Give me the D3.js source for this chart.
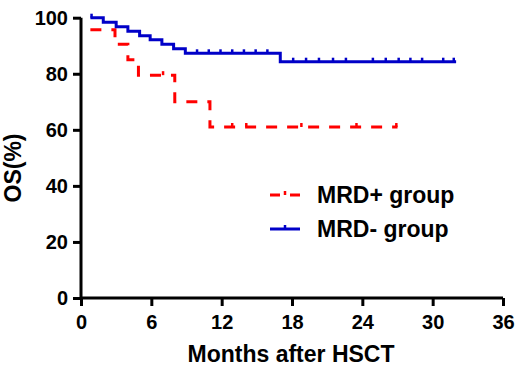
<!DOCTYPE html>
<html><head><meta charset="utf-8">
<script src="https://cdn.jsdelivr.net/npm/d3@7"></script>
<style>body{margin:0;background:#fff}svg{display:block}</style>
</head><body>
<script>
const xTicks = [0, 6, 12, 18, 24, 30, 36];
const yTicks = [0, 20, 40, 60, 80, 100];
const seriesNames = ["MRD+ group", "MRD- group"];
// MRD+ group (red)
const redTimes = [0.8, 2.9, 4.0, 4.9, 8.0, 11.0, 27.0];
const redSurv  = [95.7, 90.5, 85.0, 79.5, 70.0, 61.0, 61.0];
const redCensor = [7.0, 12.9, 14.1, 18.8, 23.5, 26.9];
// MRD- group (blue)
const blueTimes = [0.8, 1.9, 3.0, 4.0, 5.0, 5.9, 6.9, 7.9, 8.9, 17.0, 32.0];
const blueSurv  = [100, 98.4, 96.8, 95.2, 93.6, 92.1, 90.5, 88.9, 87.3, 84.3, 84.3];
const blueCensor = [0.9, 9.9, 10.9, 11.9, 12.9, 13.9, 14.9, 15.9, 18.1, 19.2, 20.3, 21.5, 22.6, 24.9, 26.0, 27.1, 28.1, 29.1, 30.9, 31.8];

const W = 520, H = 374;
const RED = "#ff0000", BLUE = "#0000c8";
const FONT = "'Liberation Sans', Arial, sans-serif";
const svg = d3.select("body").append("svg").attr("width", W).attr("height", H);
const x = d3.scaleLinear().domain([0, 36]).range([81, 503]);
const y = d3.scaleLinear().domain([0, 100]).range([298, 17.7]);

function survAt(times, surv, t) {
  let s = surv[0];
  for (let i = 0; i < times.length; i++) if (times[i] <= t) s = surv[i];
  return s;
}
const line = d3.line().x(d => x(d[0])).y(d => y(d[1])).curve(d3.curveStepAfter);

// curves
svg.append("path").attr("d", line(redTimes.map((t, i) => [t, redSurv[i]])))
  .attr("fill", "none").attr("stroke", RED).attr("stroke-width", 3).attr("stroke-dasharray", "11,10");
svg.append("path").attr("d", line(blueTimes.map((t, i) => [t, blueSurv[i]])))
  .attr("fill", "none").attr("stroke", BLUE).attr("stroke-width", 3);

// censor ticks
svg.selectAll(".cb").data(blueCensor).join("line")
  .attr("x1", d => x(d)).attr("x2", d => x(d))
  .attr("y1", d => y(survAt(blueTimes, blueSurv, d))).attr("y2", d => y(survAt(blueTimes, blueSurv, d)) - 4)
  .attr("stroke", BLUE).attr("stroke-width", 2.5);
svg.selectAll(".cr").data(redCensor).join("line")
  .attr("x1", d => x(d)).attr("x2", d => x(d))
  .attr("y1", d => y(survAt(redTimes, redSurv, d))).attr("y2", d => y(survAt(redTimes, redSurv, d)) - 4)
  .attr("stroke", RED).attr("stroke-width", 2.5);

// axes
const xAxis = svg.append("g").attr("transform", `translate(0,${y(0)})`)
  .call(d3.axisBottom(x).tickValues(xTicks).tickSize(8).tickPadding(9));
const yAxis = svg.append("g").attr("transform", `translate(${x(0)},0)`)
  .call(d3.axisLeft(y).tickValues(yTicks).tickSize(8).tickPadding(5));
[xAxis, yAxis].forEach(g => {
  g.select(".domain").attr("stroke", "#000").attr("stroke-width", 3);
  g.selectAll(".tick line").attr("stroke", "#000").attr("stroke-width", 3);
  g.selectAll(".tick text").attr("font-family", FONT).attr("font-weight", "bold")
    .attr("font-size", 20).attr("fill", "#000");
});
xAxis.select(".domain").attr("d", `M${x(0)},0H${x(36)}`);
yAxis.select(".domain").attr("d", `M0,${y(0)}V${y(100)}`);

// axis titles
svg.append("text").attr("x", 291).attr("y", 362).attr("text-anchor", "middle")
  .attr("font-family", FONT).attr("font-weight", "bold").attr("font-size", 23).text("Months after HSCT");
svg.append("text").attr("transform", "translate(21,168) rotate(-90)").attr("text-anchor", "middle")
  .attr("font-family", FONT).attr("font-weight", "bold").attr("font-size", 23).text("OS(%)");

// legend
const lg = svg.append("g");
const rows = [
  {name: seriesNames[0], color: RED, dash: "10,10", y: 195},
  {name: seriesNames[1], color: BLUE, dash: null, y: 229}
];
rows.forEach(r => {
  lg.append("line").attr("x1", 270).attr("x2", 300).attr("y1", r.y).attr("y2", r.y)
    .attr("stroke", r.color).attr("stroke-width", 3).attr("stroke-dasharray", r.dash);
  lg.append("line").attr("x1", 285).attr("x2", 285).attr("y1", r.y).attr("y2", r.y - 4)
    .attr("stroke", r.color).attr("stroke-width", 2.5);
  lg.append("text").attr("x", 317).attr("y", r.y + 8).attr("font-family", FONT)
    .attr("font-weight", "bold").attr("font-size", 23).text(r.name);
});
</script>
</body></html>
